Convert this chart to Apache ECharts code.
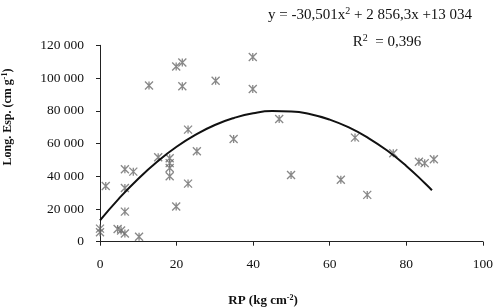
<!DOCTYPE html>
<html>
<head>
<meta charset="utf-8">
<script src="https://cdn.jsdelivr.net/npm/echarts@6/dist/echarts.min.js"></script>
<style>html,body{margin:0;padding:0;background:#fff}#c{width:496px;height:308px}</style>
</head>
<body>
<div id="c"></div>
<script>
// Observed points: RP (kg cm-2) vs Long. Esp. (cm g-1)
var rpValues = [0, 0, 1.5, 4.6, 5.5, 6.5, 6.5, 6.5, 6.5, 8.7, 10.2, 12.8, 15.2, 18.2, 18.2, 18.2, 18.2, 19.9, 19.9, 21.5, 21.5, 23, 23, 25.3, 30.2, 34.9, 39.9, 39.9, 46.8, 49.9, 62.9, 66.6, 69.8, 76.6, 83.3, 84.8, 87.2];
var lengthValues = [8000, 5800, 34000, 7800, 6800, 44300, 32800, 18400, 5000, 42800, 3000, 95400, 51600, 51000, 48000, 45000, 40000, 21500, 107000, 109500, 95000, 68500, 35500, 55300, 98300, 62800, 112800, 93300, 75000, 40800, 37800, 63600, 28600, 54000, 48800, 48000, 50400];
// Fitted curve
var curveX = [0, 5, 10, 15, 20, 25, 30, 35, 40, 45, 50, 55, 60, 65, 70, 75, 80, 85, 86.7];
var curveY = [13000, 26500, 38500, 49000, 58000, 65400, 71300, 75600, 78500, 79800, 79600, 77900, 74600, 69800, 63500, 55700, 46300, 35400, 31400];
var xTicks = [0, 20, 40, 60, 80, 100];
var yTicks = [0, 20000, 40000, 60000, 80000, 100000, 120000];
var equationText = 'y = -30,501x{s|2} + 2 856,3x +13 034';
var r2Text = 'R{s|2}  = 0,396';

var serif = '"Liberation Serif", "Times New Roman", serif';
var chart = echarts.init(document.getElementById('c'), null, {renderer: 'canvas'});
var pts = rpValues.map(function (x, i) { return [x, lengthValues[i]]; });
var curve = curveX.map(function (x, i) { return [x, curveY[i]]; });
function fmt(v) { return String(v).replace(/\B(?=(\d{3})+(?!\d))/g, ' '); }

chart.setOption({
  animation: false,
  backgroundColor: '#fff',
  grid: {left: 100, right: 11.7, top: 45.3, bottom: 66.3, containLabel: false},
  xAxis: {
    type: 'value', min: xTicks[0], max: xTicks[xTicks.length - 1], interval: 20,
    axisLine: {show: true, onZero: false, lineStyle: {color: '#222', width: 1}},
    axisTick: {show: true, length: 4, lineStyle: {color: '#222'}},
    axisLabel: {color: '#111', fontFamily: serif, fontSize: 13.5, margin: 16},
    splitLine: {show: false}
  },
  yAxis: {
    type: 'value', min: yTicks[0], max: yTicks[yTicks.length - 1], interval: 20000,
    axisLine: {show: true, lineStyle: {color: '#222', width: 1}},
    axisTick: {show: true, length: 4, lineStyle: {color: '#222'}},
    axisLabel: {color: '#111', fontFamily: serif, fontSize: 13.5, margin: 16, formatter: fmt},
    splitLine: {show: false}
  },
  series: [
    {
      type: 'scatter', data: pts,
      symbol: 'path://M0,0L10,10M10,0L0,10M5,0L5,10',
      symbolSize: 8,
      itemStyle: {color: 'none', borderColor: '#6a6a6a', borderWidth: 1.3},
      z: 2
    },
    {
      type: 'line', data: curve, smooth: true, showSymbol: false, symbol: 'none',
      lineStyle: {color: '#111', width: 2}, z: 3
    }
  ],
  graphic: [
    {type: 'text', left: 268, top: 6, style: {text: equationText, fill: '#111', font: '15px ' + serif,
      rich: {s: {fontSize: 10, verticalAlign: 'top', padding: [0, 0, 8, 0], fontFamily: serif, fill: '#111'}}}},
    {type: 'text', x: 387, y: 42, style: {text: r2Text, fill: '#111', font: '15px ' + serif, align: 'center', verticalAlign: 'middle',
      rich: {s: {fontSize: 10, padding: [0, 0, 8, 0], fontFamily: serif, fill: '#111'}}}},
    {type: 'text', x: 263, y: 301, style: {text: 'RP (kg cm{s|-2})', fill: '#111', font: 'bold 13px ' + serif, align: 'center', verticalAlign: 'middle',
      rich: {s: {fontSize: 8, fontWeight: 'bold', padding: [0, 0, 7, 0], fontFamily: serif, fill: '#111'}}}},
    {type: 'text', x: 8, y: 117, rotation: Math.PI / 2, style: {text: 'Long. Esp. (cm g{s|-1})', fill: '#111', font: 'bold 12px ' + serif, align: 'center', verticalAlign: 'middle',
      rich: {s: {fontSize: 8, fontWeight: 'bold', padding: [0, 0, 7, 0], fontFamily: serif, fill: '#111'}}}}
  ]
});
</script>
</body>
</html>
